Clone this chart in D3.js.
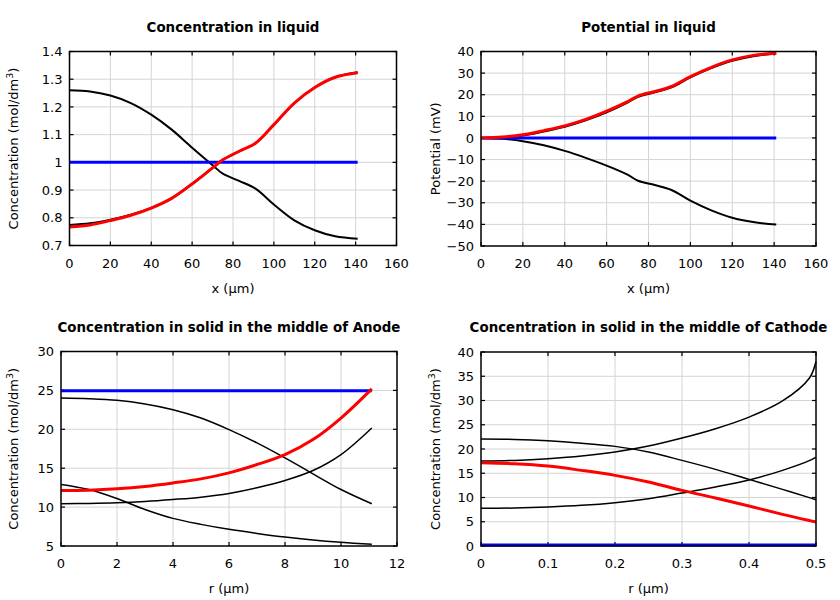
<!DOCTYPE html>
<html><head><meta charset="utf-8">
<script src="https://cdn.jsdelivr.net/npm/d3@7"></script>
<style>body{margin:0;background:#fff}svg{display:block}text{font-family:"DejaVu Sans",sans-serif}</style>
</head><body><svg id="c" width="840" height="600"></svg>
<script>
// ---------- data ----------
const titles = ["Concentration in liquid","Potential in liquid","Concentration in solid in the middle of Anode","Concentration in solid in the middle of Cathode"];
const xLabels = ["x (µm)","x (µm)","r (µm)","r (µm)"];

// Panel 1: concentration in liquid
const p1x = [0,10,20,30,40,50,60,70,75,83,91,100,110,120,130,141];
const p1Black = [1.260,1.256,1.241,1.214,1.172,1.118,1.053,0.990,0.959,0.933,0.905,0.848,0.791,0.755,0.733,0.724];
const p1Black2 = [0.774,0.780,0.793,0.811,0.836,0.871,0.923,0.980,1.009,1.040,1.069,1.136,1.214,1.270,1.307,1.325];
const p1Blue = [1,1,1,1,1,1,1,1,1,1,1,1,1,1,1,1];
const p1Red = [0.767,0.774,0.790,0.809,0.835,0.870,0.922,0.980,1.009,1.040,1.069,1.136,1.214,1.270,1.307,1.323];
const p1XTicks = [0,20,40,60,80,100,120,140,160];
const p1YTicks = [0.7,0.8,0.9,1,1.1,1.2,1.3,1.4];

// Panel 2: potential in liquid
const p2x = [0,10,20,30,40,50,60,70,75,83,91,100,110,120,130,141];
const p2Black = [0,-0.4,-1.5,-3.4,-6,-9.2,-12.8,-17.0,-19.8,-21.8,-24.1,-29.0,-33.5,-36.9,-38.9,-40.1];
const p2Black2 = [0,0.1,1.1,3.0,5.2,8.2,11.9,16.4,19.0,21.1,23.4,28.0,32.3,35.7,37.8,39.1];
const p2Blue = [0,0,0,0,0,0,0,0,0,0,0,0,0,0,0,0];
const p2Red = [0,0.4,1.5,3.4,5.6,8.6,12.4,16.8,19.4,21.5,23.8,28.4,32.7,36.1,38.2,39.2];
const p2XTicks = [0,20,40,60,80,100,120,140,160];
const p2YTicks = [-50,-40,-30,-20,-10,0,10,20,30,40];

// Panel 3: solid, anode
const p3x = [0,1,2,3,4,5,6,7,8,9,10,11.1];
const p3BlackA = [24.02,23.93,23.72,23.25,22.52,21.45,19.96,18.25,16.32,14.27,12.26,10.43];
const p3BlackB = [10.43,10.47,10.56,10.73,10.98,11.28,11.75,12.48,13.42,14.7,16.75,20.17];
const p3BlackC = [12.91,12.26,11.1,9.7,8.55,7.78,7.14,6.62,6.15,5.77,5.47,5.21];
const p3Blue = [24.95,24.95,24.95,24.95,24.95,24.95,24.95,24.95,24.95,24.95,24.95,24.95];
const p3Red = [12.14,12.18,12.35,12.65,13.1,13.63,14.4,15.47,16.75,18.68,21.45,25.2];
const p3XTicks = [0,2,4,6,8,10,12];
const p3YTicks = [5,10,15,20,25,30];

// Panel 4: solid, cathode
const p4x = [0,0.05,0.1,0.15,0.2,0.25,0.3,0.35,0.4,0.45,0.49,0.5];
const p4BlackA = [22.05,21.98,21.7,21.2,20.54,19.37,17.65,15.8,13.74,11.68,9.97,9.55];
const p4BlackB = [17.51,17.65,18.0,18.54,19.37,20.6,22.25,24.18,26.58,29.9,34.6,38.05];
const p4BlackC = [7.76,7.83,8.04,8.38,8.93,9.75,10.92,12.16,13.6,15.6,17.6,18.34];
const p4Blue = [0.2,0.2,0.2,0.2,0.2,0.2,0.2,0.2,0.2,0.2,0.2,0.2];
const p4Red = [17.17,16.96,16.48,15.59,14.56,13.19,11.47,9.89,8.24,6.52,5.25,4.95];
const p4XTicks = [0,0.1,0.2,0.3,0.4,0.5];
const p4YTicks = [0,5,10,15,20,25,30,35,40];

// ---------- drawing ----------
const svg = d3.select("#c");
const panels = [
  {box:[69.5,396.5,51.5,245.5], xd:[0,160], yd:[0.7,1.4], xt:p1XTicks, yt:p1YTicks, x:p1x,
   series:[[p1Black,"#000",2],[p1Black2,"#000",2],[p1Blue,"#0000ff",3],[p1Red,"#ff0000",3]], ylab:"conc", titleY:32},
  {box:[481,816,51.5,246], xd:[0,160], yd:[-50,40], xt:p2XTicks, yt:p2YTicks, x:p2x,
   series:[[p2Black,"#000",2],[p2Black2,"#000",2],[p2Blue,"#0000ff",3],[p2Red,"#ff0000",3]], ylab:"Potential (mV)", titleY:32},
  {box:[61,397,351.5,546], xd:[0,12], yd:[5,30], xt:p3XTicks, yt:p3YTicks, x:p3x,
   series:[[p3BlackA,"#000",1.5],[p3BlackB,"#000",1.5],[p3BlackC,"#000",1.5],[p3Blue,"#0000ff",3],[p3Red,"#ff0000",3]], ylab:"conc", titleY:332},
  {box:[481,816,352,546], xd:[0,0.5], yd:[0,40], xt:p4XTicks, yt:p4YTicks, x:p4x,
   series:[[p4BlackA,"#000",1.5],[p4BlackB,"#000",1.5],[p4BlackC,"#000",1.5],[p4Blue,"#0000ff",3],[p4Red,"#ff0000",3]], ylab:"conc", titleY:332}
];
const yTitleX = [13, 435, 13, 435];
const fmt = v => d3.format("~g")(+v.toFixed(6));

panels.forEach((p,i)=>{
  const [L,R,T,B] = p.box;
  const xs = d3.scaleLinear().domain(p.xd).range([L,R]);
  const ys = d3.scaleLinear().domain(p.yd).range([B,T]);
  const g = svg.append("g");
  // grid
  g.selectAll(".gx").data(p.xt.slice(1,-1)).join("line")
    .attr("x1",d=>xs(d)).attr("x2",d=>xs(d)).attr("y1",T).attr("y2",B)
    .attr("stroke","#d4d4d4").attr("stroke-width",1);
  g.selectAll(".gy").data(p.yt.slice(1,-1)).join("line")
    .attr("y1",d=>ys(d)).attr("y2",d=>ys(d)).attr("x1",L).attr("x2",R)
    .attr("stroke","#d4d4d4").attr("stroke-width",1);
  // inward ticks (mirrored)
  const tk = 4;
  p.xt.forEach(d=>{
    g.append("line").attr("x1",xs(d)).attr("x2",xs(d)).attr("y1",B).attr("y2",B-tk).attr("stroke","#000").attr("stroke-width",1.2);
    g.append("line").attr("x1",xs(d)).attr("x2",xs(d)).attr("y1",T).attr("y2",T+tk).attr("stroke","#000").attr("stroke-width",1.2);
  });
  p.yt.forEach(d=>{
    g.append("line").attr("y1",ys(d)).attr("y2",ys(d)).attr("x1",L).attr("x2",L+tk).attr("stroke","#000").attr("stroke-width",1.2);
    g.append("line").attr("y1",ys(d)).attr("y2",ys(d)).attr("x1",R).attr("x2",R-tk).attr("stroke","#000").attr("stroke-width",1.2);
  });
  // tick labels
  g.selectAll(".xl").data(p.xt).join("text")
    .attr("x",d=>xs(d)).attr("y",B+22).attr("text-anchor","middle")
    .attr("font-size",13).attr("fill","#000").text(fmt);
  g.selectAll(".yl").data(p.yt).join("text")
    .attr("x",L-7).attr("y",d=>ys(d)+4.7).attr("text-anchor","end")
    .attr("font-size",13).attr("fill","#000").text(fmt);
  // series
  const line = d3.line().x((d,k)=>xs(p.x[k])).y(d=>ys(d)).curve(d3.curveCatmullRom.alpha(0.5));
  p.series.forEach(([vals,col,w])=>{
    g.append("path").attr("d",line(vals)).attr("fill","none")
      .attr("stroke",col).attr("stroke-width",w).attr("stroke-linejoin","round");
  });
  // frame
  g.append("rect").attr("x",L).attr("y",T).attr("width",R-L).attr("height",B-T)
    .attr("fill","none").attr("stroke","#000").attr("stroke-width",1.5);
  // title
  g.append("text").attr("x",(L+R)/2).attr("y",p.titleY).attr("text-anchor","middle")
    .attr("font-size",13.4).attr("font-weight","bold").text(titles[i]);
  // x label
  g.append("text").attr("x",(L+R)/2).attr("y",B+47).attr("text-anchor","middle")
    .attr("font-size",13).text(xLabels[i]);
  // y label
  const yt = g.append("text").attr("transform",`translate(${yTitleX[i]+5},${(T+B)/2}) rotate(-90)`)
    .attr("text-anchor","middle").attr("font-size",13);
  if (p.ylab==="conc") {
    yt.append("tspan").text("Concentration (mol/dm");
    yt.append("tspan").attr("dy",-5).attr("font-size",9.5).text("3");
    yt.append("tspan").attr("dy",5).text(")");
  } else yt.text(p.ylab);
});
</script></body></html>
